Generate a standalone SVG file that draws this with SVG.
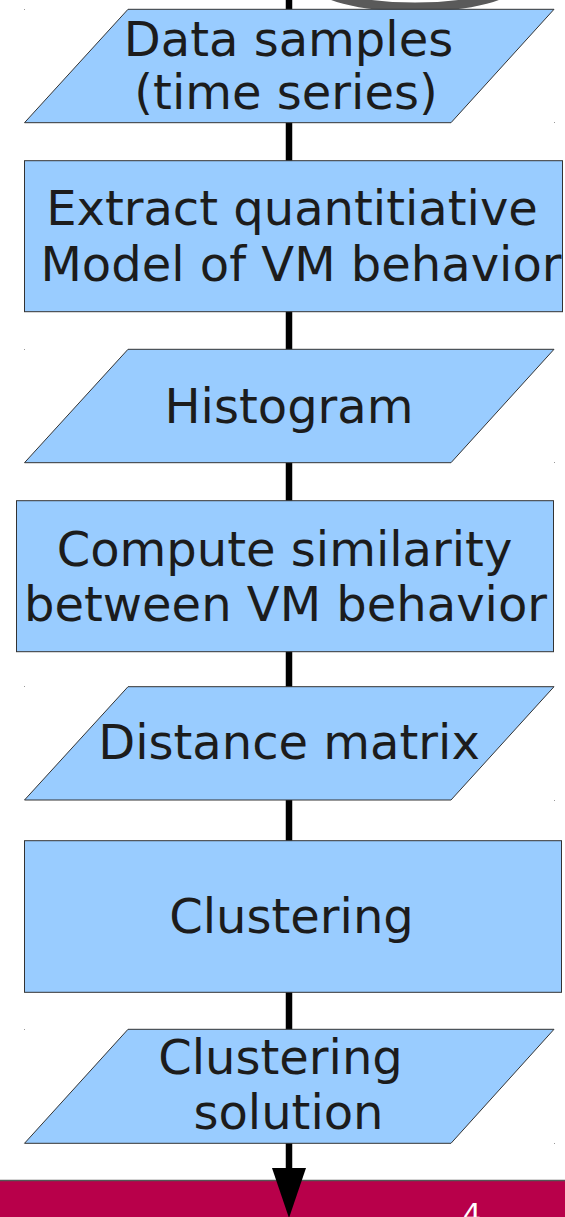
<svg xmlns="http://www.w3.org/2000/svg" width="565" height="1217" viewBox="0 0 565 1217">
<style>
.shape{fill:#99ccff;stroke:#333333;stroke-width:1}
.lbl{font-family:"DejaVu Sans",sans-serif;font-size:48px;fill:#1c1c1c;text-anchor:middle}
.conn{stroke:#000000;stroke-width:6.5;fill:none}
.dot{fill:#999999}
</style>
<defs>
<marker id="arrow" markerUnits="userSpaceOnUse" markerWidth="50" markerHeight="36" viewBox="0 -18 50 36" refX="0" refY="0" orient="auto">
<path d="M0,-17 L50,0 L0,17 Z" fill="#000000"/>
</marker>
</defs>
<rect x="0" y="0" width="565" height="1217" fill="#ffffff"/>
<g id="background">
<ellipse cx="415" cy="-19" rx="100" ry="26" fill="none" stroke="#5a5a5a" stroke-width="9"/>
<rect x="0" y="1180" width="565" height="37" fill="#b8004a"/>
<line x1="0" y1="1180.5" x2="565" y2="1180.5" stroke="#555555" stroke-width="1.5"/>
<text x="472" y="1224" font-family="DejaVu Sans,sans-serif" font-size="29" fill="#ffffff" text-anchor="middle">4</text>
</g>
<g id="connectors">
<line class="conn" x1="289" y1="0" x2="289" y2="10"/>
<line class="conn" x1="289" y1="122" x2="289" y2="161"/>
<line class="conn" x1="289" y1="311" x2="289" y2="350"/>
<line class="conn" x1="289" y1="462" x2="289" y2="501"/>
<line class="conn" x1="289" y1="651" x2="289" y2="687"/>
<line class="conn" x1="289" y1="800" x2="289" y2="841"/>
<line class="conn" x1="289" y1="992" x2="289" y2="1030"/>
<line class="conn" x1="289" y1="1143" x2="289" y2="1168" marker-end="url(#arrow)"/>
</g>
<g id="n1">
<polygon class="shape" points="128,9.3 554,9.3 451,122.7 24.5,122.7"/>
<rect class="dot" x="24" y="9" width="1" height="1"/><rect class="dot" x="554" y="122" width="1" height="1"/>
<text class="lbl" x="288.5" y="56">Data samples</text>
<text class="lbl" x="286" y="109">(time series)</text>
</g>
<g id="n2">
<rect class="shape" x="24.5" y="160.7" width="538" height="151"/>
<text class="lbl" x="292" y="225">Extract quantitiative</text>
<text class="lbl" x="301" y="281">Model of VM behavior</text>
</g>
<g id="n3">
<polygon class="shape" points="128,349.3 554,349.3 451,462.7 24.5,462.7"/>
<rect class="dot" x="24" y="349" width="1" height="1"/><rect class="dot" x="554" y="462" width="1" height="1"/>
<text class="lbl" x="289" y="423">Histogram</text>
</g>
<g id="n4">
<rect class="shape" x="16.5" y="500.7" width="537" height="151"/>
<text class="lbl" x="284.5" y="566">Compute similarity</text>
<text class="lbl" x="285.5" y="621">between VM behavior</text>
</g>
<g id="n5">
<polygon class="shape" points="128,686.7 554,686.7 451,800 24.5,800"/>
<rect class="dot" x="24" y="686" width="1" height="1"/><rect class="dot" x="554" y="800" width="1" height="1"/>
<text class="lbl" x="289" y="759">Distance matrix</text>
</g>
<g id="n6">
<rect class="shape" x="24.5" y="840.7" width="537" height="151.6"/>
<text class="lbl" x="291.5" y="933">Clustering</text>
</g>
<g id="n7">
<polygon class="shape" points="128,1029.3 554,1029.3 451,1143.3 24.5,1143.3"/>
<rect class="dot" x="24" y="1029" width="1" height="1"/><rect class="dot" x="554" y="1143" width="1" height="1"/>
<text class="lbl" x="280.5" y="1074">Clustering</text>
<text class="lbl" x="288.5" y="1129">solution</text>
</g>
</svg>
